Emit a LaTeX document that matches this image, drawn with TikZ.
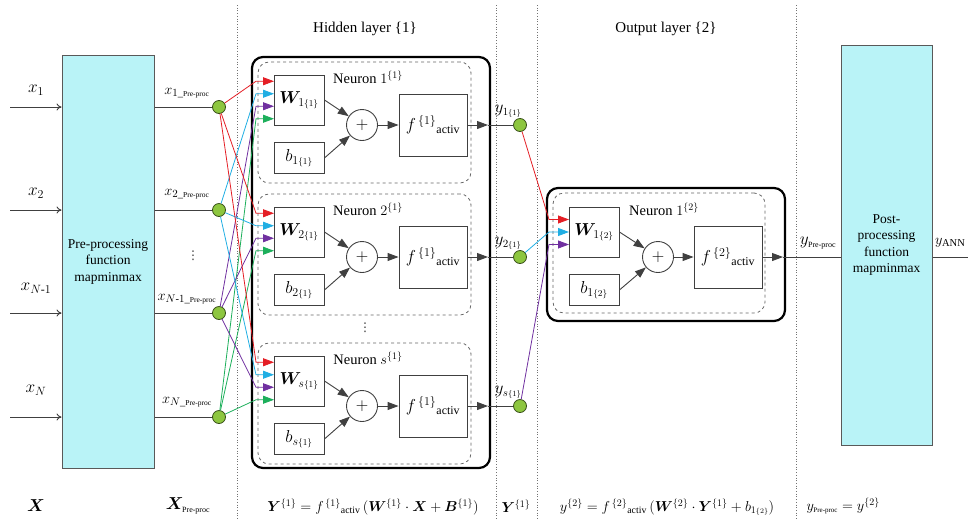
\documentclass[tikz,border=0pt]{standalone}
\usepackage{amsmath}
\usepackage{fontspec}
\setmainfont{Liberation Serif}
\newfontfamily\dvfont{DejaVu Sans}
\usepackage{bm}
\usetikzlibrary{arrows.meta}

\definecolor{boxcyan}{HTML}{B9F3F7}
\definecolor{dotgreen}{HTML}{8DC63F}
\definecolor{cred}{HTML}{E41E25}
\definecolor{ccyan}{HTML}{20AEE3}
\definecolor{cpurp}{HTML}{7030A0}
\definecolor{cgreen}{HTML}{1DAF5B}

\newcommand{\ppsub}{{\scriptscriptstyle\mathrm{Pre\text{-}proc}}}
\newcommand{\lay}[1]{{\scriptscriptstyle\{#1\}}}

\tikzset{
  gline/.style={draw=black!75, line width=0.9pt},
  arr/.style={gline, -{Triangle[length=11pt,width=8pt]}},
  sep/.style={draw=black!55, dotted, line width=0.7pt},
  prebox/.style={draw=black!65, fill=boxcyan, line width=1pt, align=center, inner sep=0pt,
    font=\fontsize{13.5}{16.5}\selectfont},
  bigbox/.style={draw=black, line width=2.2pt, rounded corners=11pt, inner sep=0pt},
  dashbox/.style={draw=black!60, dashed, line width=0.8pt, rounded corners=11pt, inner sep=0pt},
  wbox/.style={draw=black!75, line width=0.9pt, minimum width=50pt, minimum height=50pt, inner sep=0pt,
    font=\fontsize{18}{20}\selectfont},
  bbox/.style={wbox, minimum height=31pt},
  fbox/.style={wbox, minimum width=68pt, minimum height=62pt, font=\fontsize{17}{19}\selectfont},
  sumnode/.style={circle, draw=black!75, line width=0.9pt, minimum size=31pt, inner sep=0pt,
    font=\fontsize{18}{20}\selectfont},
  dot/.style={circle, draw=black!60!dotgreen, fill=dotgreen, line width=0.8pt, minimum size=13pt, inner sep=0pt},
  varlab/.style={inner sep=1pt, font=\fontsize{17}{19}\selectfont},
  neulab/.style={inner sep=1pt, font=\fontsize{14.5}{17}\selectfont},
  vdot/.style={inner sep=0pt, font=\dvfont\fontsize{12}{14}\selectfont, text=black!80}
}

\begin{document}
\begin{tikzpicture}[x=1pt,y=-1pt,font=\fontsize{14}{16}\selectfont]
\useasboundingbox (0,0) rectangle (968,523);

% separators
\foreach \xs in {237,496,537,796}
  \draw[sep] (\xs,5) -- (\xs,520);

\node (hidhead) at (365,29) {\fontsize{15}{17}\selectfont Hidden layer \{1\}};
\node (outhead) at (666,29) {\fontsize{15}{17}\selectfont Output layer \{2\}};

% pre-processing
\node[prebox, minimum width=92pt, minimum height=413pt] (pre) at (108,261.5)
  {Pre-processing\\function\\mapminmax};

\foreach \i/\yy/\ly/\lab/\py/\plab in {
    1/107/90/{x_1}/93/{x_{1\_\ppsub}},
    2/210/193/{x_2}/194/{x_{2\_\ppsub}},
    3/313/288/{x_{N\text{-}1}}/299/{x_{N\text{-}1\_\ppsub}},
    4/417/390/{x_N}/402/{x_{N\_\ppsub}}} {
  \coordinate (src\i) at (10,\yy);
  \node[dot] (in\i) at (219,\yy) {};
  \draw[gline, -{To[length=5pt,width=7pt]}] (src\i) -- (pre.west |- src\i);
  \draw[gline] (pre.east |- src\i) -- (in\i);
  \node[varlab] (xl\i) at (36,\ly) {$\lab$};
  \node[varlab, font=\fontsize{15}{17}\selectfont] (xp\i) at (187,\py) {$\plab$};
}
\node[vdot] (vd1) at (193,256) {⋮};

% hidden layer
\node[bigbox, minimum width=238pt, minimum height=411pt] (hid) at (371,262.5) {};
\foreach \n/\yc in {1/125, 2/257, s/406} {
  \node[dashbox, minimum width=213pt, minimum height=121pt] (d\n) at (364.5,\yc-2.5) {};
  \node[neulab] (lab\n) at (368,\yc-48) {Neuron $\n^{\{1\}}$};
  \node[wbox] (w\n) at (299,\yc-25) {$\bm{W}_{\n\lay{1}}$};
  \node[bbox] (b\n) at (299,\yc+33) {$b_{\n\lay{1}}$};
  \node[sumnode] (s\n) at (362,\yc) {$+$};
  \node[fbox] (f\n) at (433,\yc) {$f^{\,\{1\}}{}_{\text{activ}}$};
  \node[dot] (y\n) at (520,\yc) {};
  \coordinate (o\n) at (488,\yc);
  \node[varlab, font=\fontsize{16}{18}\selectfont] (yl\n) at (508,\yc-14) {$y_{\n\lay{1}}$};
  \draw[arr] (w\n.east) -- (s\n);
  \draw[arr] (b\n.east) -- (s\n);
  \draw[arr] (s\n) -- (f\n);
  \draw[arr] (f\n) -- (o\n);
  \draw[gline] (o\n) -- (y\n);
  \foreach \i/\col in {1/cred, 2/ccyan, 3/cpurp, 4/cgreen} {
    \coordinate (\n-r\i) at (274,\yc-56.25+12.5*\i);
    \draw[\col, line width=0.8pt, -{Triangle[length=11pt,width=8pt]}]
      (in\i) -- ([xshift=-18pt]\n-r\i) -- (\n-r\i);
  }
}
\node[vdot] (vd2) at (365,328) {⋮};

% output layer
\node[bigbox, minimum width=238pt, minimum height=133pt] (outn) at (666,254.5) {};
\node[dashbox, minimum width=212pt, minimum height=120pt] (dout) at (659,253) {};
\node[neulab] (labo) at (664,209) {Neuron $1^{\{2\}}$};
\node[wbox] (wo) at (594,232) {$\bm{W}_{1\lay{2}}$};
\node[bbox] (bo) at (594,290) {$b_{1\lay{2}}$};
\node[sumnode] (so) at (658,257) {$+$};
\node[fbox] (fo) at (728,257) {$f^{\,\{2\}}{}_{\text{activ}}$};
\coordinate (oo) at (783,257);
\draw[arr] (wo.east) -- (so);
\draw[arr] (bo.east) -- (so);
\draw[arr] (so) -- (fo);
\draw[arr] (fo) -- (oo);
\foreach \n/\i/\col in {1/1/cred, 2/2/ccyan, s/3/cpurp} {
  \coordinate (o-r\i) at (569,219.5+12.5*\i-12.5);
  \draw[\col, line width=0.8pt, -{Triangle[length=11pt,width=8pt]}]
    (y\n) -- ([xshift=-20pt]o-r\i) -- (o-r\i);
}

% post-processing
\node[prebox, minimum width=91pt, minimum height=400pt] (post) at (886.5,245)
  {Post-\\processing\\function\\mapminmax};
\draw[gline] (oo) -- (post.west |- oo);
\node[varlab, font=\fontsize{16}{18}\selectfont] (ypre) at (818,243) {$y_\ppsub$};
\coordinate (yend) at (968,257);
\draw[gline] (post.east |- yend) -- (yend);
\node[varlab, anchor=west, font=\fontsize{15}{17}\selectfont] (yann) at (934,243) {$y_{\mathrm{ANN}}$};

% bottom formulas
\node[varlab] (bX) at (36,506) {$\bm{X}$};
\node[varlab, font=\fontsize{16}{18}\selectfont] (bXp) at (188,506) {$\bm{X}_\ppsub$};
\node (bY1) at (373,507) {$\bm{Y}^{\{1\}} = f^{\,\{1\}}{}_{\text{activ}}\,(\bm{W}^{\{1\}}\cdot\bm{X}+\bm{B}^{\{1\}})$};
\node (bY) at (516,506) {$\bm{Y}^{\{1\}}$};
\node (by2) at (667,507) {$y^{\{2\}} = f^{\,\{2\}}{}_{\text{activ}}\,(\bm{W}^{\{2\}}\cdot\bm{Y}^{\{1\}}+b_{1\lay{2}})$};
\node[anchor=west] (byp) at (803,506) {$y_\ppsub = y^{\{2\}}$};
\end{tikzpicture}
\end{document}
